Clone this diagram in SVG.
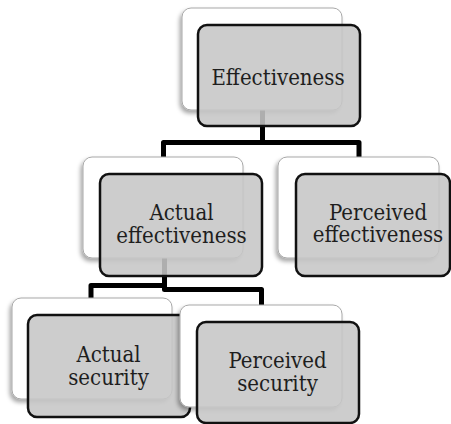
<svg xmlns="http://www.w3.org/2000/svg" width="451" height="424" viewBox="0 0 451 424">
<style>
.back{fill:#ffffff;stroke:#a8a8a8;stroke-width:1;filter:url(#sh)}
.front{fill:#c6c6c6;fill-opacity:0.88;stroke:#111;stroke-width:2.5}
.conn{fill:none;stroke:#000;stroke-width:5;stroke-linejoin:round}
.lbl{font-family:"DejaVu Serif Condensed","DejaVu Serif",serif;font-stretch:condensed;font-size:22px;fill:#1e1e1e;text-anchor:middle}
</style>
<defs>
<filter id="sh" x="-20%" y="-20%" width="140%" height="150%">
<feDropShadow dx="-2" dy="3" stdDeviation="2" flood-color="#000" flood-opacity="0.35"/>
</filter>
</defs>
<rect width="451" height="424" fill="#fff"/>
<g id="connectors">
<path class="conn" d="M262.5 110 V142.5 H163.5 V158"/>
<path class="conn" d="M262.5 110 V142.5 H359 V158"/>
<path class="conn" d="M164.5 258 V285.5 H91 V300"/>
<path class="conn" d="M164.5 258 V289.5 H261.5 V306"/>
</g>
<g id="n-effectiveness">
<rect class="back" x="182" y="8" width="160" height="102" rx="9"/>
<rect class="front" x="198" y="25" width="162" height="101" rx="9"/>
<text class="lbl" x="278" y="84.5">Effectiveness</text>
</g>
<g id="n-actual-effectiveness">
<rect class="back" x="83" y="157" width="160" height="101" rx="9"/>
<rect class="front" x="100" y="174" width="162" height="102" rx="9"/>
<text class="lbl" x="181.5" y="220">Actual</text>
<text class="lbl" x="181.5" y="242.7">effectiveness</text>
</g>
<g id="n-perceived-effectiveness">
<rect class="back" x="278" y="157" width="161" height="101" rx="9"/>
<rect class="front" x="296" y="174" width="154" height="102" rx="9"/>
<text class="lbl" x="378" y="219.5">Perceived</text>
<text class="lbl" x="378" y="242.2">effectiveness</text>
</g>
<g id="n-actual-security">
<rect class="back" x="12" y="298" width="160" height="101" rx="9"/>
<rect class="front" x="28" y="315" width="162" height="102" rx="9"/>
<text class="lbl" x="108.5" y="361.7">Actual</text>
<text class="lbl" x="108.5" y="384.5">security</text>
</g>
<g id="n-perceived-security">
<rect class="back" x="180" y="305" width="162" height="102" rx="9"/>
<rect class="front" x="197" y="322" width="162" height="101" rx="9"/>
<text class="lbl" x="277.5" y="368">Perceived</text>
<text class="lbl" x="277.5" y="390.5">security</text>
</g>
</svg>
